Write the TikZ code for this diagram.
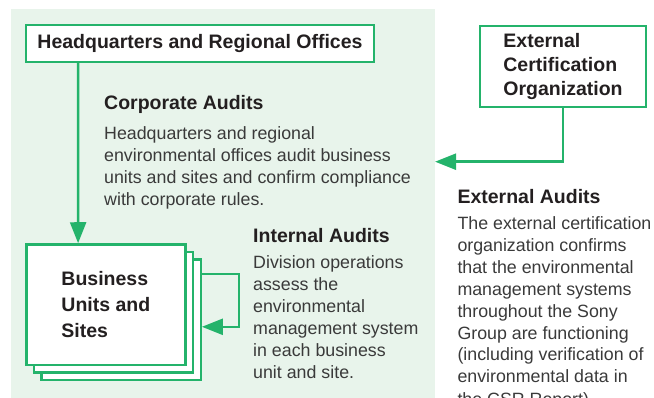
\documentclass[tikz,border=0pt]{standalone}
\usepackage{fontspec}
\setmainfont{Liberation Sans}
\usetikzlibrary{arrows.meta,positioning,calc}
\definecolor{auditgreen}{HTML}{24B36B}
\definecolor{auditbg}{HTML}{E8F4EB}
\definecolor{headtext}{HTML}{231F20}
\definecolor{bodytext}{HTML}{3A3A3A}
\tikzset{
  orgbox/.style  = {draw=auditgreen, line width=2.4pt, fill=white, inner sep=0pt,
                    align=left, text=headtext,
                    font=\fontsize{19.5}{24.2}\selectfont\bfseries},
  unitbox/.style = {orgbox, minimum width=159.2pt, minimum height=120.3pt,
                    font=\fontsize{19.5}{26}\selectfont\bfseries},
  heading/.style = {anchor=base west, inner sep=0pt, text=headtext,
                    font=\fontsize{19.5}{22}\selectfont\bfseries},
  % multi-line text sits on the baseline of its last line
  para/.style    = {anchor=base west, inner sep=0pt, align=left, text=bodytext,
                    font=\fontsize{17.8}{22}\selectfont},
  link/.style    = {draw=auditgreen, line width=2.4pt,
                    -{Triangle[length=21pt,width=16pt]}},
}

\begin{document}
\begin{tikzpicture}[x=1pt,y=-1pt]
\useasboundingbox (0,0) rectangle (654,398);
\clip (0,0) rectangle (654,398);
% shaded area of the company
\fill[auditbg] (11,9) rectangle (435,398);

\node[orgbox, minimum width=347.5pt, minimum height=36.5pt] (hq) at (200,43.5)
  {Headquarters and Regional Offices};
\node[orgbox, minimum width=165.5pt, minimum height=80.5pt] (ext) at (563,66.5)
  {External\\Certification\\Organization};

% stacked business units
\node[unitbox] (units3) at (121.1,319.8) {};
\node[unitbox] (units2) at (113.5,312.2) {};
\node[unitbox] (units) at (105.9,304.6) {Business\\Units and\\Sites};

\node[heading] (corphead) at (104,110) {Corporate Audits};
\node[para] (corptext) at (104,205.5)
  {Headquarters and regional\\environmental offices audit business\\units and sites and confirm compliance\\with corporate rules.};
\node[heading] (inthead) at (253,242.3) {Internal Audits};
\node[para] (inttext) at (253,378.5)
  {Division operations\\assess the\\environmental\\management system\\in each business\\unit and site.};
\node[heading] (exthead) at (457.3,203.3) {External Audits};
\node[para] (exttext) at (457.3,405)
  {The external certification\\organization confirms\\that the environmental\\management systems\\throughout the Sony\\Group are functioning\\(including verification of\\environmental data in\\the CSR Report).};

\coordinate (extin) at (435,161.7);
\draw[link] ([xshift=53pt]hq.south west) -- ([xshift=53pt]units.north west);
\draw[link] (ext.south) |- (extin);
\draw[link] ([yshift=46pt]units3.east) -- ++(37,0) |- ([yshift=-7pt]units3.east);
\end{tikzpicture}
\end{document}
